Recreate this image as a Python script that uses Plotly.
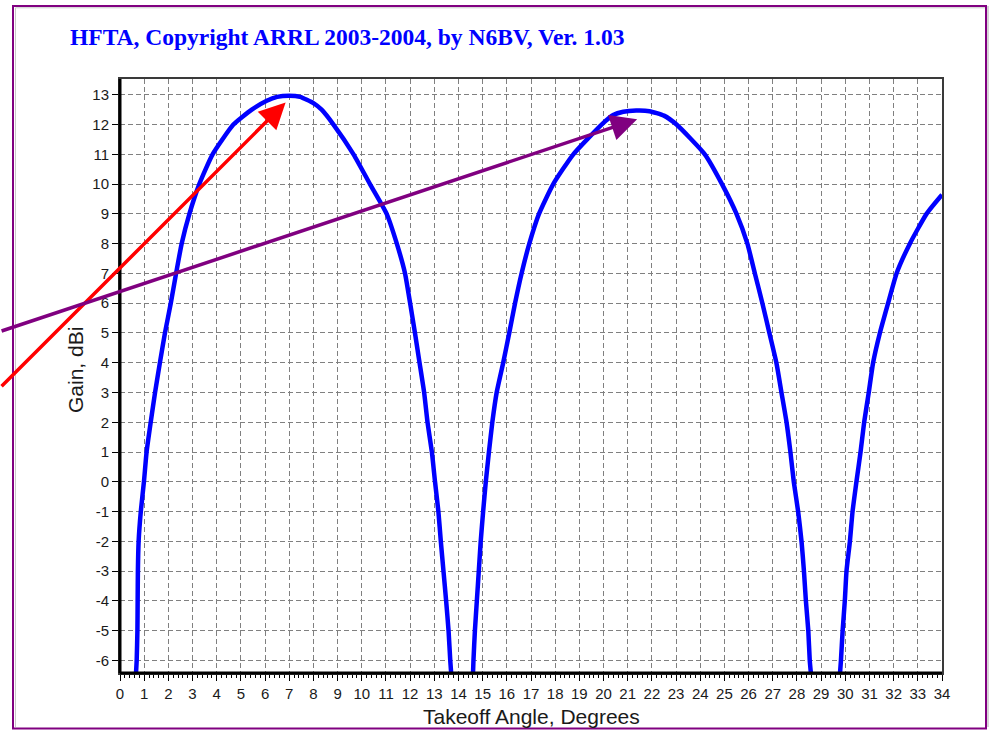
import plotly.graph_objects as go

# ---------------- data ----------------
angle_lobe1 = [0.66, 0.69, 0.72, 0.73, 0.74, 0.77, 0.86, 0.99, 1.10, 1.27, 1.45, 1.65, 1.86, 2.10,
               2.32, 2.55, 2.87, 3.28, 3.83, 4.69, 5.45, 6.07, 6.50, 7.00, 7.45, 8.00, 8.34, 8.83,
               9.66, 10.34, 11.03, 11.45, 11.79, 12.00, 12.20, 12.39, 12.58, 12.72, 12.90, 13.03,
               13.17, 13.27, 13.38, 13.49, 13.59, 13.66, 13.70]
gain_lobe1 = [-6.45, -6, -5, -4, -3, -2, -1, 0, 1, 2, 3, 4, 5, 6,
              7, 8, 9, 10, 11, 12, 12.5, 12.8, 12.93, 12.97, 12.93, 12.72, 12.5, 12,
              11, 10, 9, 8, 7, 6, 5, 4, 3, 2, 1, 0,
              -1, -2, -3, -4, -5, -6, -6.45]

angle_lobe2 = [14.60, 14.62, 14.68, 14.76, 14.84, 14.92, 15.02, 15.13, 15.26, 15.40, 15.58, 15.85,
               16.10, 16.34, 16.61, 16.93, 17.33, 17.92, 18.75, 19.92, 20.40, 20.82, 21.35, 21.90,
               22.50, 23.02, 24.19, 24.90, 25.50, 25.95, 26.26, 26.57, 26.86, 27.15, 27.36, 27.57,
               27.73, 27.87, 28.05, 28.19, 28.29, 28.37, 28.47, 28.53, 28.58]
gain_lobe2 = [-6.45, -6, -5, -4, -3, -2, -1, 0, 1, 2, 3, 4,
              5, 6, 7, 8, 9, 10, 11, 12, 12.32, 12.43, 12.47, 12.45,
              12.3, 12, 11, 10, 9, 8, 7, 6, 5, 4, 3, 2,
              1, 0, -1, -2, -3, -4, -5, -6, -6.45]

angle_lobe3 = [29.78, 29.82, 29.89, 29.98, 30.05, 30.19, 30.30, 30.46, 30.63, 30.78, 30.97, 31.15,
               31.43, 31.77, 32.12, 32.67, 33.36, 34.00]
gain_lobe3 = [-6.45, -6, -5, -4, -3, -2, -1, 0, 1, 2, 3, 4,
              5, 6, 7, 8, 9, 9.64]

x_ticks = list(range(0, 35))
y_ticks = list(range(-6, 14))

# arrows: (tail angle, tail gain) -> (head angle, head gain)
red_arrow_tail = [-4.96, 3.16]
red_arrow_head = [6.85, 12.74]
purple_arrow_tail = [-4.96, 5.05]
purple_arrow_head = [21.39, 12.18]

title_text = "HFTA, Copyright ARRL 2003-2004, by N6BV, Ver. 1.03"
x_title = "Takeoff Angle, Degrees"
y_title = "Gain, dBi"

# ---------------- layout geometry ----------------
W, H = 990, 730
ML, MR, MT, MB = 120, 48, 79, 57
PW, PH = W - ML - MR, H - MT - MB


def px(x):
    return (x - ML) / PW


def py(y):
    return (H - MB - y) / PH


# ---------------- figure ----------------
angles = angle_lobe1 + [None] + angle_lobe2 + [None] + angle_lobe3
gains = gain_lobe1 + [None] + gain_lobe2 + [None] + gain_lobe3

fig = go.Figure()
fig.add_trace(go.Scatter(x=angles, y=gains, mode="lines", connectgaps=False,
                         line=dict(color="#0000FF", width=4.5, shape="spline", smoothing=0.5),
                         hoverinfo="x+y", showlegend=False))

tick_font = dict(family="Liberation Sans, Arial, sans-serif", size=15, color="#1a1a1a")

fig.update_xaxes(range=[0, 34], tickmode="array", tickvals=x_ticks,
                 ticktext=[str(t) for t in x_ticks],
                 showgrid=True, gridcolor="#808080", gridwidth=1, griddash="5px,3px",
                 zeroline=False, showline=True, linecolor="#3a3a3a", linewidth=2, mirror=True,
                 ticks="outside", ticklen=6, tickwidth=1, tickcolor="#000000",
                 minor=dict(ticks="outside", ticklen=3, dtick=0.2, tick0=0, tickcolor="#000000",
                            showgrid=False),
                 tickfont=tick_font)
fig.update_yaxes(range=[-6.42, 13.53], tickmode="array", tickvals=y_ticks,
                 ticktext=[str(t) for t in y_ticks],
                 showgrid=True, gridcolor="#808080", gridwidth=1, griddash="5px,3px",
                 zeroline=False, showline=True, linecolor="#3a3a3a", linewidth=2, mirror=True,
                 ticks="outside", ticklen=6, tickwidth=1, tickcolor="#000000",
                 tickfont=tick_font)

shapes = [
    # heavier black left & bottom axis lines
    dict(type="line", xref="paper", yref="paper", x0=0, x1=0, y0=0, y1=1,
         line=dict(color="#000000", width=3)),
    dict(type="line", xref="paper", yref="paper", x0=0, x1=1, y0=0, y1=0,
         line=dict(color="#000000", width=3)),
    # outer purple frame
    dict(type="rect", xref="paper", yref="paper", x0=px(13), x1=px(986), y0=py(728.5), y1=py(6),
         line=dict(color="#800080", width=2), layer="below"),
    # inner grey frame edges
    dict(type="line", xref="paper", yref="paper", x0=px(15.5), x1=px(985), y0=py(7.8), y1=py(7.8),
         line=dict(color="#c8c8c8", width=1)),
    dict(type="line", xref="paper", yref="paper", x0=px(15.5), x1=px(15.5), y0=py(727), y1=py(7.8),
         line=dict(color="#c8c8c8", width=1)),
    dict(type="line", xref="paper", yref="paper", x0=px(988), x1=px(988), y0=py(727), y1=py(6),
         line=dict(color="#c8c8c8", width=1.5)),
]

annotations = [
    dict(xref="paper", yref="paper", x=px(68), y=py(37), xanchor="left", yanchor="middle",
         text="<b>" + title_text + "</b>", showarrow=False,
         font=dict(family="Liberation Serif, Times New Roman, serif", size=23.5, color="#0000FF")),
    dict(xref="paper", yref="paper", x=0.5, y=py(717), xanchor="center", yanchor="middle",
         text=x_title, showarrow=False,
         font=dict(family="Liberation Sans, Arial, sans-serif", size=21, color="#1a1a1a")),
    dict(xref="paper", yref="paper", x=px(75), y=py(370), xanchor="center", yanchor="middle",
         text=y_title, showarrow=False, textangle=-90,
         font=dict(family="Liberation Sans, Arial, sans-serif", size=21, color="#1a1a1a")),
    dict(x=red_arrow_head[0], y=red_arrow_head[1], xref="x", yref="y",
         ax=red_arrow_tail[0], ay=red_arrow_tail[1], axref="x", ayref="y",
         text="", showarrow=True, arrowhead=2, arrowsize=1.5, arrowwidth=3.5,
         arrowcolor="#FF0000", standoff=0),
    dict(x=purple_arrow_head[0], y=purple_arrow_head[1], xref="x", yref="y",
         ax=purple_arrow_tail[0], ay=purple_arrow_tail[1], axref="x", ayref="y",
         text="", showarrow=True, arrowhead=2, arrowsize=1.5, arrowwidth=3.5,
         arrowcolor="#800080", standoff=0),
]

fig.update_layout(width=W, height=H, margin=dict(l=ML, r=MR, t=MT, b=MB, pad=0),
                  paper_bgcolor="#ffffff", plot_bgcolor="#ffffff",
                  shapes=shapes, annotations=annotations, showlegend=False)

fig.write_html("out.html", config={"displayModeBar": False},
               post_script="document.body.style.margin='0';document.body.style.overflow='hidden';")
